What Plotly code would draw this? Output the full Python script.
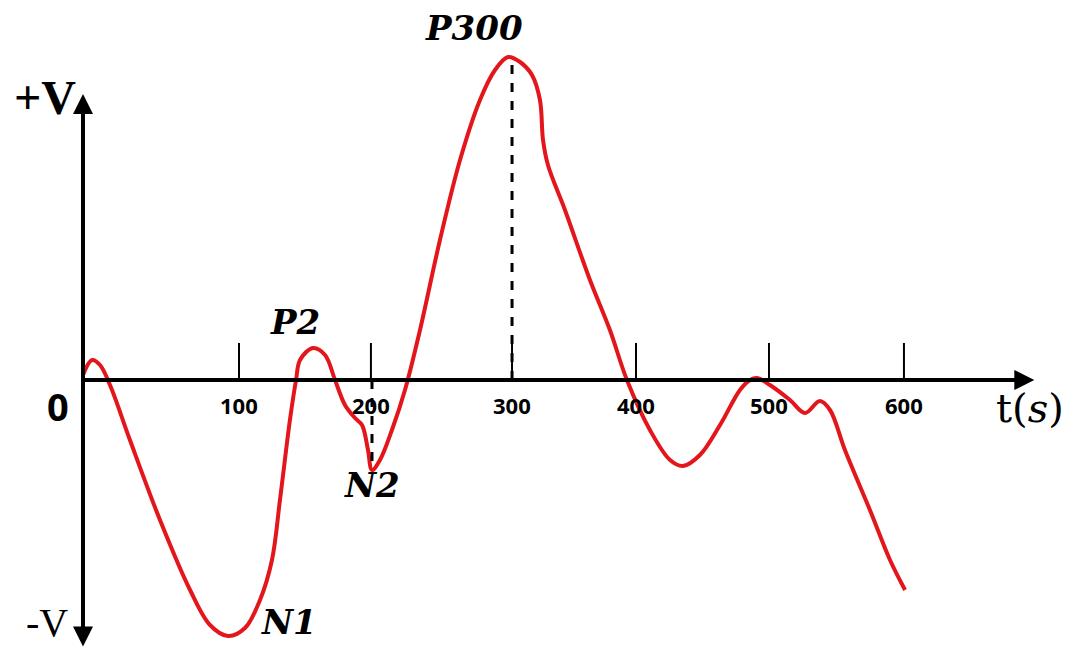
import plotly.graph_objects as go

# ERP waveform (t in ms-like units, v in arbitrary voltage units)
t_vals = [-17.3, -10.5, -4.5, 3.0, 18.0, 40.6, 63.2, 78.2, 91.7, 104.5, 115.8, 124.8,
          130.8, 138.3, 142.9, 145.9, 155.6, 164.7, 172.2, 179.7, 187.2, 192.5, 197.0,
          200.0, 206.0, 215.0, 224.8, 236.1, 251.1, 266.2, 281.2, 292.5, 302.3, 311.3,
          320.3, 326.3, 328.6, 332.3, 345.1, 363.9, 378.9, 391.7, 409.0, 424.1, 433.8,
          446.6, 461.7, 476.7, 484.2, 489.5, 499.2, 514.3, 525.6, 536.8, 544.4, 555.6,
          574.4, 589.5, 600.8]
v_vals = [0.05, 0.20, 0.15, -0.05, -0.60, -1.40, -2.10, -2.45, -2.56, -2.48, -2.20,
          -1.80, -1.20, -0.40, 0.00, 0.20, 0.32, 0.25, 0.00, -0.25, -0.38, -0.45, -0.70,
          -0.90, -0.80, -0.50, -0.10, 0.50, 1.40, 2.20, 2.80, 3.10, 3.23, 3.18, 3.05,
          2.80, 2.40, 2.15, 1.70, 1.00, 0.50, 0.00, -0.50, -0.80, -0.86, -0.75, -0.45,
          -0.10, 0.00, 0.02, -0.05, -0.20, -0.33, -0.21, -0.30, -0.70, -1.30, -1.80, -2.10]

tick_labels = ["100", "200", "300", "400", "500", "600"]
tick_pos = [100, 199.2, 305.3, 398.5, 498.5, 600]

peak_labels = ["P2", "N2", "N1", "P300"]
peak_label_t = [142, 200, 137.6, 276.7]
peak_label_v = [0.58, -1.05, -2.42, 3.52]

axis_t = -17.3
p300_t = 305.3
p300_v = 3.15
n2_t = 200.0
n2_v = -0.90

fig = go.Figure()

fig.add_trace(go.Scatter(x=t_vals, y=v_vals, mode="lines",
                         line=dict(color="#e3161b", width=4, shape="spline", smoothing=1.0),
                         hoverinfo="skip", showlegend=False))

shapes = []
# tick marks
for tp in tick_pos:
    shapes.append(dict(type="line", xref="x", yref="y", x0=tp, x1=tp, y0=0, y1=0.37,
                       line=dict(color="black", width=2)))
# dashed markers
shapes.append(dict(type="line", xref="x", yref="y", x0=p300_t, x1=p300_t, y0=0, y1=p300_v,
                   line=dict(color="black", width=3, dash="dash")))
shapes.append(dict(type="line", xref="x", yref="y", x0=n2_t, x1=n2_t, y0=0, y1=n2_v,
                   line=dict(color="black", width=3, dash="dash")))

annotations = []
# horizontal axis arrow
annotations.append(dict(x=698, y=0, ax=axis_t, ay=0, xref="x", yref="y", axref="x", ayref="y",
                        showarrow=True, arrowhead=2, arrowsize=1, arrowwidth=4,
                        arrowcolor="black", text=""))
# vertical axis double arrow
annotations.append(dict(x=axis_t, y=2.86, ax=axis_t, ay=-2.68, xref="x", yref="y",
                        axref="x", ayref="y", showarrow=True, arrowhead=2, arrowsize=1,
                        arrowwidth=4, arrowside="end+start", arrowcolor="black", text=""))
for lab, tp in zip(tick_labels, tick_pos):
    annotations.append(dict(x=tp, y=-0.25, xref="x", yref="y", text="<b>%s</b>" % lab,
                            showarrow=False,
                            font=dict(family="Open Sans", size=22, color="black")))
for lab, tx, vy in zip(peak_labels, peak_label_t, peak_label_v):
    annotations.append(dict(x=tx, y=vy, xref="x", yref="y", text="<b><i>%s</i></b>" % lab,
                            showarrow=False,
                            font=dict(family="DejaVu Serif", size=34, color="black")))
annotations.append(dict(x=-45.9, y=2.83, xref="x", yref="y", text="<b>+V</b>", showarrow=False,
                        font=dict(family="Liberation Serif", size=48, color="black")))
annotations.append(dict(x=-44.4, y=-2.42, xref="x", yref="y", text="-V", showarrow=False,
                        font=dict(family="Liberation Serif", size=40, color="black")))
annotations.append(dict(x=-36, y=-0.26, xref="x", yref="y", text="<b>0</b>", showarrow=False,
                        font=dict(family="Open Sans", size=38, color="black")))
annotations.append(dict(x=694.7, y=-0.28, xref="x", yref="y", text="t(<i>s</i>)",
                        showarrow=False,
                        font=dict(family="DejaVu Serif", size=40, color="black")))

fig.update_layout(
    width=1073, height=648,
    margin=dict(l=0, r=0, t=0, b=0),
    paper_bgcolor="white", plot_bgcolor="white",
    xaxis=dict(range=[-79.7, 727.1], visible=False, fixedrange=True),
    yaxis=dict(range=[-2.68, 3.80], visible=False, fixedrange=True),
    shapes=shapes, annotations=annotations, showlegend=False,
)

fig.write_html("out.html", config={"displayModeBar": False},
               post_script="document.body.style.margin='0';document.body.style.overflow='hidden';")
